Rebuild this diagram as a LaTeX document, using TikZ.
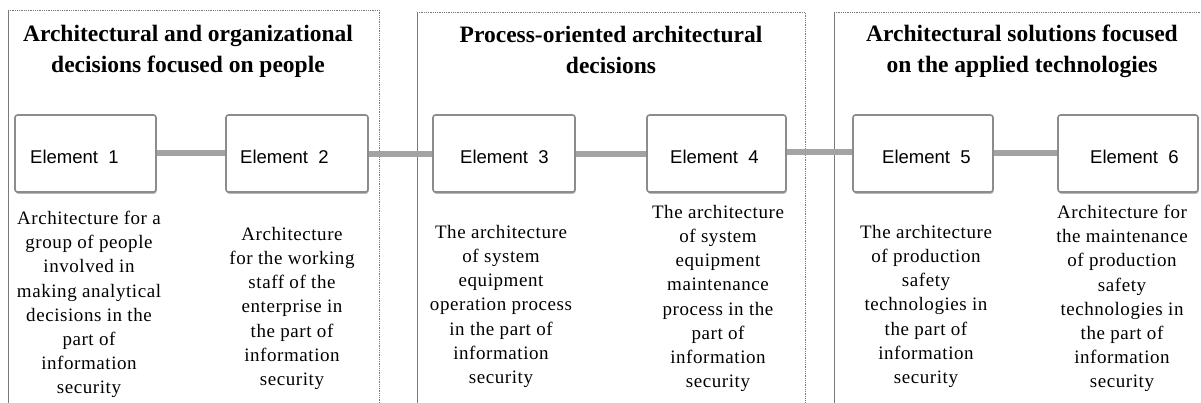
\documentclass[tikz,border=0pt]{standalone}
\usepackage{fontspec}
\setmainfont{Liberation Serif}
\newfontfamily\labelfont{Liberation Sans}
\newfontfamily\descfont[LetterSpace=3]{Liberation Serif}
\usetikzlibrary{shadows}
\definecolor{linkgray}{HTML}{A3A3A3}
\definecolor{framegray}{HTML}{7A7A7A}
\definecolor{boxgray}{HTML}{8C8C8C}
\tikzset{
  grpside/.style={draw=framegray, line width=0.8pt},
  grpdot/.style={draw=framegray, line width=0.8pt, densely dotted},
  heading/.style={anchor=north, align=center, inner sep=0pt,
    font=\bfseries\fontsize{23.5}{31}\selectfont},
  elembox/.style={draw=boxgray, line width=1.6pt, fill=white, rounded corners=2.5pt,
    minimum height=77pt, inner sep=0pt,
    drop shadow={shadow xshift=0.6pt, shadow yshift=-1.8pt, opacity=0.55}},
  elemlabel/.style={anchor=base west, inner sep=0pt,
    font=\labelfont\fontsize{18.5}{22}\selectfont},
  desc/.style={anchor=north, align=center, inner sep=0pt,
    font=\descfont\fontsize{19}{24.2}\selectfont},
  link/.style={draw=linkgray, line width=6pt}
}
\begin{document}
\begin{tikzpicture}[x=1pt,y=-1pt]
\useasboundingbox (0,0) rectangle (1201,402);
\clip (0,0) rectangle (1201,402);

% group frames (open towards the bottom)
\draw[grpside] (8,10) -- (8,420);
\draw[grpdot] (8,10) -- (379,10) -- (379,420);
\draw[grpside] (417,12) -- (417,420);
\draw[grpdot] (417,12) -- (805,12) -- (805,420);
\draw[grpside] (834,12) -- (834,420);
\draw[grpdot] (834,12) -- (1215,12);

% group headings
\node[heading] (h1) at (188,25) {Architectural and organizational\\decisions focused on people};
\node[heading] (h2) at (611,26) {Process-oriented architectural\\decisions};
\node[heading] (h3) at (1022,25) {Architectural solutions focused\\on the applied technologies};

% element boxes
\node[elembox, minimum width=141pt] (e1) at (85.5,153.5) {};
\node[elembox, minimum width=142pt] (e2) at (297,153.5) {};
\node[elembox, minimum width=142pt] (e3) at (504,153.5) {};
\node[elembox, minimum width=139pt] (e4) at (716.5,153.5) {};
\node[elembox, minimum width=140pt] (e5) at (923,153.5) {};
\node[elembox, minimum width=140pt] (e6) at (1128,153.5) {};

% element captions
\node[elemlabel] (t1) at (30,163) {Element\ \ 1};
\node[elemlabel] (t2) at (240,163) {Element\ \ 2};
\node[elemlabel] (t3) at (460,163) {Element\ \ 3};
\node[elemlabel] (t4) at (670,163) {Element\ \ 4};
\node[elemlabel] (t5) at (882,163) {Element\ \ 5};
\node[elemlabel] (t6) at (1090,163) {Element\ \ 6};

% descriptions under the elements
\node[desc] (d1) at (89,211) {Architecture for a\\group of people\\involved in\\making analytical\\decisions in the\\part of\\information\\security};
\node[desc] (d2) at (292,227) {Architecture\\for the working\\staff of the\\enterprise in\\the part of\\information\\security};
\node[desc] (d3) at (501,225) {The architecture\\of system\\equipment\\operation process\\in the part of\\information\\security};
\node[desc] (d4) at (718,205) {The architecture\\of system\\equipment\\maintenance\\process in the\\part of\\information\\security};
\node[desc] (d5) at (926,225) {The architecture\\of production\\safety\\technologies in\\the part of\\information\\security};
\node[desc] (d6) at (1122,205) {Architecture for\\the maintenance\\of production\\safety\\technologies in\\the part of\\information\\security};

% links between consecutive elements
\draw[link] ([yshift=1pt]e1.east) -- ([yshift=1pt]e2.west);
\draw[link] (e2.east) -- (e3.west);
\draw[link] (e3.east) -- (e4.west);
\draw[link] ([yshift=1.5pt]e4.east) -- ([yshift=1.5pt]e5.west);
\draw[link] ([yshift=1pt]e5.east) -- ([yshift=1pt]e6.west);
\end{tikzpicture}
\end{document}
